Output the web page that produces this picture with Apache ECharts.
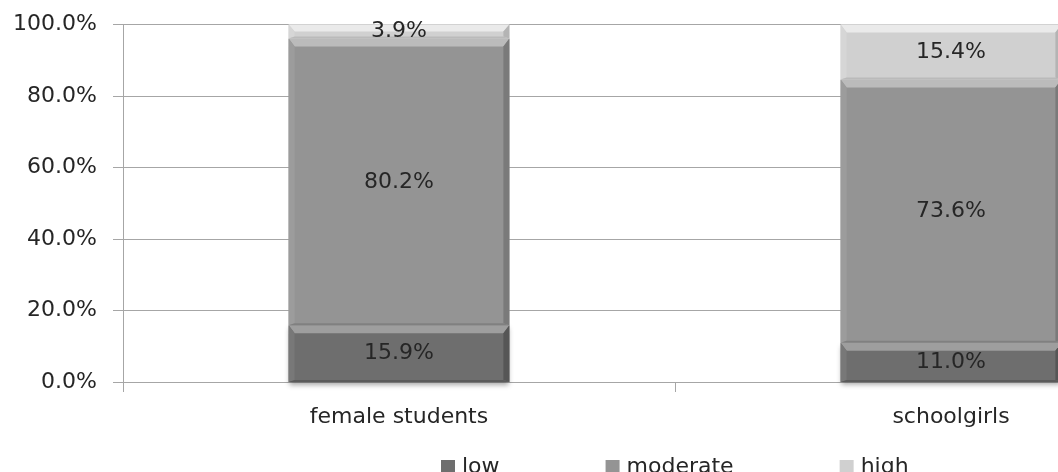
<!DOCTYPE html>
<html>
<head>
<meta charset="utf-8">
<script src="https://cdn.jsdelivr.net/npm/echarts@6/dist/echarts.min.js"></script>
<style>
  html, body { margin: 0; padding: 0; background: #ffffff; }
  #chart { width: 1058px; height: 472px; }
</style>
</head>
<body>
<div id="chart"></div>
<script>
// Share of each level within the two groups (percent, each bar sums to 100)
const categories = ['female students', 'schoolgirls'];
const seriesNames = ['low', 'moderate', 'high'];
const low = [15.9, 11.0];
const moderate = [80.2, 73.6];
const high = [3.9, 15.4];
const yTicks = [0, 20, 40, 60, 80, 100];

const FONT = '"DejaVu Sans", Verdana, sans-serif';
const FS = 22;
const TEXT = '#262626';
const AXIS = '#a6a6a6';

// face / top bevel / left edge / right edge / bottom edge for each level
const shades = {
  low:      { face: '#6e6e6e', top: '#9e9e9e', left: '#787878', right: '#565656', bottom: '#5a5a5a' },
  moderate: { face: '#949494', top: '#bbbbbb', left: '#9c9c9c', right: '#7a7a7a', bottom: '#808080' },
  high:     { face: '#d0d0d0', top: '#eaeaea', left: '#d6d6d6', right: '#b4b4b4', bottom: '#bababa' }
};

const levels = [low, moderate, high];

// Stack the levels: each datum is [category index, start, end]
function stacked(levelIndex) {
  return categories.map((c, ci) => {
    let start = 0;
    for (let k = 0; k < levelIndex; k++) start += levels[k][ci];
    return [ci, start, start + levels[levelIndex][ci]];
  });
}

// Draws one stacked segment as a bevelled block with its percentage centred on it
function bevelBar(name, withShadow) {
  const s = shades[name];
  return function (params, api) {
    const ci = api.value(0);
    const v0 = api.value(1), v1 = api.value(2);
    const pb = api.coord([ci, v0]);
    const pt = api.coord([ci, v1]);
    const w = api.size([1, 0])[0] * 0.4;
    const x0 = pb[0] - w / 2, x1 = x0 + w;
    const yt = pt[1], yb = pb[1];
    const h = yb - yt;
    const b = Math.min(8, h / 2);
    const e = Math.min(6, w / 2);
    const pct = (v1 - v0).toFixed(1) + '%';
    return {
      type: 'group',
      children: [
        { type: 'rect', shape: { x: x0, y: yt, width: w, height: h },
          style: withShadow ? { fill: s.face, shadowBlur: 5, shadowOffsetY: 3, shadowColor: 'rgba(0,0,0,0.35)' } : { fill: s.face } },
        { type: 'polygon', shape: { points: [[x0, yt], [x1, yt], [x1 - e, yt + b], [x0 + e, yt + b]] },
          style: { fill: s.top } },
        { type: 'polygon', shape: { points: [[x0, yt], [x0 + e, yt + b], [x0 + e, yb - 2], [x0, yb]] },
          style: { fill: s.left } },
        { type: 'polygon', shape: { points: [[x1, yt], [x1 - e, yt + b], [x1 - e, yb - 2], [x1, yb]] },
          style: { fill: s.right } },
        { type: 'polygon', shape: { points: [[x0, yb], [x0 + e, yb - 2], [x1 - e, yb - 2], [x1, yb]] },
          style: { fill: s.bottom } },
        { type: 'text',
          style: { text: pct, x: pb[0], y: (yt + yb) / 2, align: 'center', verticalAlign: 'middle',
                   fill: TEXT, fontSize: FS, fontFamily: FONT } }
      ]
    };
  };
}

const chart = echarts.init(document.getElementById('chart'), null, { renderer: 'canvas' });

chart.setOption({
  backgroundColor: '#ffffff',
  animation: false,
  grid: { left: 123, top: 24.5, bottom: 90, right: -169, containLabel: false, outerBoundsMode: 'none' },
  legend: {
    left: 436,
    top: 451,
    itemWidth: 14,
    itemHeight: 14,
    itemGap: 106,
    icon: 'rect',
    textStyle: { fontFamily: FONT, fontSize: FS, color: TEXT, padding: [0, 0, 0, 2] },
    data: seriesNames
  },
  xAxis: {
    type: 'category',
    data: categories,
    boundaryGap: true,
    axisLine: { lineStyle: { color: AXIS, width: 1 } },
    axisTick: { show: true, length: 10, lineStyle: { color: AXIS } },
    axisLabel: { fontFamily: FONT, fontSize: FS, color: TEXT, margin: 24 }
  },
  yAxis: {
    type: 'value',
    min: yTicks[0],
    max: yTicks[yTicks.length - 1],
    interval: yTicks[1] - yTicks[0],
    axisLine: { show: true, lineStyle: { color: AXIS, width: 1 } },
    axisTick: { show: true, length: 10, lineStyle: { color: AXIS } },
    splitLine: { show: true, lineStyle: { color: AXIS, width: 1 } },
    axisLabel: { fontFamily: FONT, fontSize: FS, color: TEXT, margin: 26,
                 formatter: v => v.toFixed(1) + '%' }
  },
  series: seriesNames.map((name, i) => ({
    name: name,
    type: 'custom',
    itemStyle: { color: shades[name].face },
    encode: { x: 0, y: [1, 2] },
    renderItem: bevelBar(name, i === 0),
    data: stacked(i),
    z: 2 + i
  }))
});
</script>
</body>
</html>
